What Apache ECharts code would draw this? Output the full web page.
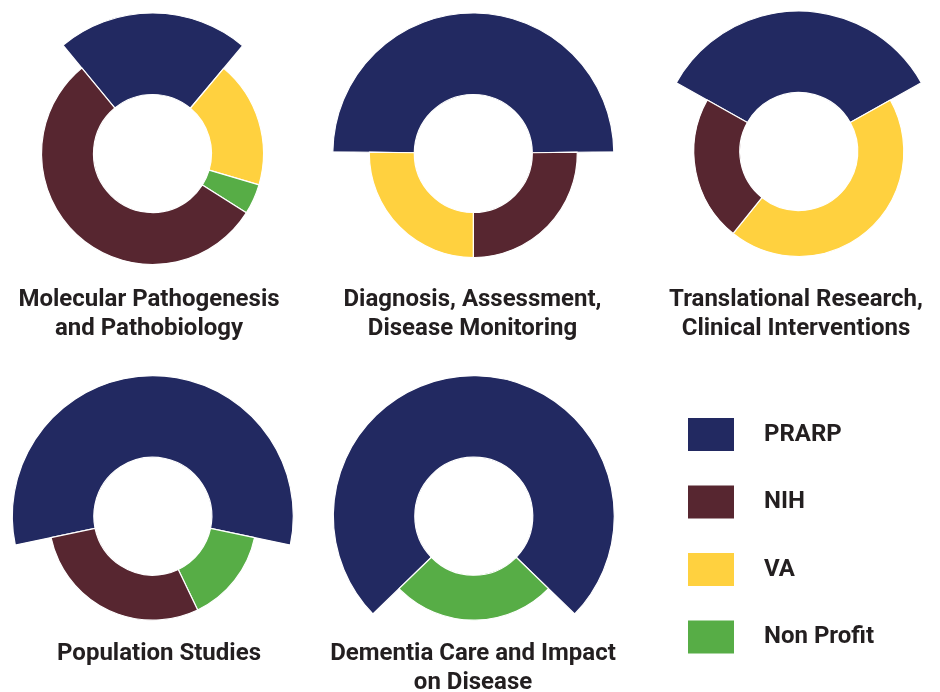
<!DOCTYPE html>
<html>
<head>
<meta charset="utf-8">
<script src="https://cdn.jsdelivr.net/npm/echarts@6/dist/echarts.min.js"></script>
<style>
html,body{margin:0;padding:0;background:#fff;}
#chart{width:940px;height:692px;}
</style>
</head>
<body>
<div id="chart"></div>
<script>
// ---- data (share of funding, %) ----
const chartTitles = [
  'Molecular Pathogenesis\nand Pathobiology',
  'Diagnosis, Assessment,\nDisease Monitoring',
  'Translational Research,\nClinical Interventions',
  'Population Studies',
  'Dementia Care and Impact\non Disease'
];
const sources = ['PRARP', 'NIH', 'VA', 'Non Profit'];
const prarp     = [22.0, 49.6, 33.7, 56.6, 74.5];
const nih       = [54.8, 25.2, 22.4, 28.8, 0];
const va        = [18.4, 25.2, 43.9, 0, 0];
const nonProfit = [4.4, 0, 0, 14.6, 25.5];
// clockwise order of the other slices after PRARP
const sliceOrder = [
  ['VA', 'Non Profit', 'NIH'],
  ['NIH', 'VA'],
  ['VA', 'NIH'],
  ['Non Profit', 'NIH'],
  ['Non Profit']
];

// ---- styling / layout ----
const colors = { 'PRARP': '#222961', 'NIH': '#572630', 'VA': '#FFD13F', 'Non Profit': '#57AD46' };
const centers = [[152.5,153.5],[473.3,153.5],[798.8,151.5],[152.8,516.2],[473.8,516.2]];
const outerR = [111, 104, 105, 104, 104];
const prarpR = 140.5;
const innerR = 59;
const titlePos = [[149,285],[472.5,285],[796,285],[159,639],[473,639]];
const FONT = 'Roboto,"DejaVu Sans Condensed",sans-serif';

const valueOf = { 'PRARP': prarp, 'NIH': nih, 'VA': va, 'Non Profit': nonProfit };

const series = [];
chartTitles.forEach((t, i) => {
  const names = ['PRARP'].concat(sliceOrder[i]);
  const start = 90 + prarp[i] * 360 / 100 / 2;
  const mk = (bigRing) => names.map(n => {
    const show = bigRing ? n === 'PRARP' : n !== 'PRARP';
    return {
      name: n,
      value: valueOf[n][i],
      itemStyle: show
        ? { color: colors[n], borderColor: '#ffffff', borderWidth: 1.2 }
        : { color: 'rgba(0,0,0,0)', borderWidth: 0 }
    };
  });
  [true, false].forEach(big => {
    series.push({
      type: 'pie',
      center: centers[i],
      radius: [innerR, big ? prarpR : outerR[i]],
      startAngle: start,
      clockwise: true,
      avoidLabelOverlap: false,
      label: { show: false },
      labelLine: { show: false },
      silent: true,
      animation: false,
      data: mk(big)
    });
  });
});

const titles = chartTitles.map((t, i) => ({
  text: t,
  left: titlePos[i][0],
  top: titlePos[i][1],
  textAlign: 'center',
  padding: 0,
  textStyle: { fontFamily: FONT, fontSize: 24, fontWeight: 'bold', color: '#231f20', lineHeight: 29 }
}));

const chart = echarts.init(document.getElementById('chart'), null, { renderer: 'canvas' });
chart.setOption({
  backgroundColor: '#ffffff',
  animation: false,
  title: titles,
  legend: {
    orient: 'vertical',
    left: 688,
    top: 418,
    padding: 0,
    itemWidth: 46,
    itemHeight: 33,
    itemGap: 34.5,
    icon: 'rect',
    selectedMode: false,
    data: sources.map(s => ({ name: s, itemStyle: { color: colors[s], borderWidth: 0 } })),
    textStyle: { fontFamily: FONT, fontSize: 24, fontWeight: 'bold', color: '#231f20', padding: [0, 0, 0, 25] }
  },
  series: series
});
</script>
</body>
</html>
